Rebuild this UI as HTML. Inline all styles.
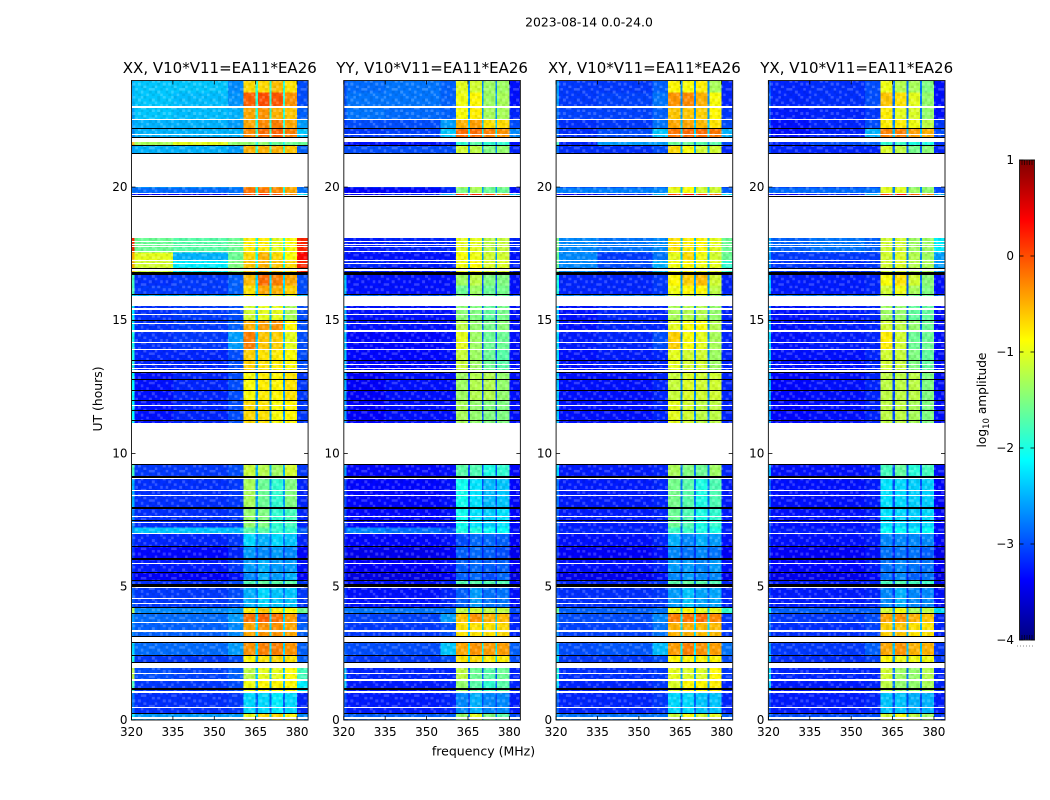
<!DOCTYPE html>
<html>
<head>
<meta charset="utf-8">
<title>2023-08-14 0.0-24.0</title>
<style>
html,body{margin:0;padding:0;background:#fff;width:1050px;height:800px;overflow:hidden}
svg{display:block}
text{font-family:"DejaVu Sans","Liberation Sans",sans-serif;fill:#000}
</style>
</head>
<body>
<svg id="fig" xmlns="http://www.w3.org/2000/svg" width="1050" height="800" viewBox="0 0 1050 800">
<defs>
<linearGradient id="jetGrad" x1="0" y1="1" x2="0" y2="0"></linearGradient>
<pattern id="grain" patternUnits="userSpaceOnUse" width="30.36" height="29.37" shape-rendering="crispEdges"></pattern>
</defs>
<text x="589" y="26.5" font-size="12.4" text-anchor="middle">2023-08-14 0.0-24.0</text>
<text x="102" y="399" font-size="12.4" text-anchor="middle" transform="rotate(-90 102 399)">UT (hours)</text>
<text x="483.5" y="755.5" font-size="12.5" text-anchor="middle">frequency (MHz)</text>
<text x="986" y="400" font-size="12.2" text-anchor="middle" transform="rotate(-90 986 400)">log<tspan font-size="8.5" dy="3">10</tspan><tspan dy="-3"> amplitude</tspan></text>
<g id="panels"></g>
<g id="cbar"></g>
</svg>
<script>
// Data (log10 amplitude per time block and frequency group)
const panelTitles = ['XX, V10*V11=EA11*EA26','YY, V10*V11=EA11*EA26','XY, V10*V11=EA11*EA26','YX, V10*V11=EA11*EA26'];
const xTickLabels = [320,335,350,365,380];
const yTickLabels = [0,5,10,15,20];
const cbarTickLabels = [-4,-3,-2,-1,0,1];
const channelEdges = [320,321,335,355,360.6,365,365.8,370,370.7,374.9,375.6,380,384];
const channelGroup = [0,1,2,3,4,8,5,8,6,8,7,9];
const rowEdges = [24,23.55,23.03,22.54,22.22,21.83,21.71,21.58,19.99,19.78,18.08,17.55,17.25,16.76,16.31,15.98,15.6,15,14.59,13.91,13.05,12,9.6,9.11,7.99,7.22,7.01,6.53,6.08,5.55,5.21,5.03,4.24,4.01,3.68,3.15,2.44,1.95,1.46,1.05,0.26,0];
// columns: edge, left1, left2, ramp, s1, s2, s3, s4, gap, right
const xxLevels = [
[-2.5,-2.4,-2.4,-2.7,-.7,-.7,-.55,-.75,-1.9,-3.0],
[-2.5,-2.4,-2.45,-2.65,-.1,0,-.05,-.35,-1.9,-3.0],
[-2.6,-2.4,-2.45,-2.5,-.45,-.35,-.5,-.6,-1.9,-2.9],
[-2.6,-2.5,-2.5,-2.6,-.45,-.3,-.25,-.45,-1.9,-2.6],
[-2.7,-2.5,-2.5,-2.5,-.3,-.15,-.1,-.25,-1.8,-2.4],
[-2.7,-2.6,-2.6,-2.7,-.9,-.9,-.9,-.9,-2,-2.8],
[-.5,-1.3,-1.0,-1.4,-1.4,-1.4,-1.6,-1.6,-2,-1.6],
[-2.6,-2.5,-2.5,-2.6,-.5,-.5,-.5,-.6,-1.8,-2.9],
[-2.8,-2.85,-2.85,-2.8,-.2,-.2,-.3,-.45,-2,-2.8],
[-3.3,-3.4,-3.4,-3.0,.0,.2,0,-.3,-2,-2.2],
[.2,-1.6,-1.7,-1.6,-.8,-.8,-1,-.9,-2,.2],
[-.5,-1.0,-2.5,-1.6,-.7,-.5,-.7,-.9,-2,.35],
[-.5,-1.1,-2.2,-1.5,-.6,-.5,-.6,-.7,-2,.2],
[-1.8,-3.15,-3.1,-2.9,-.55,-.15,-.25,-.45,-2.3,-3.0],
[-1.8,-3.1,-3.1,-2.9,-.75,-.45,-.5,-.65,-2.3,-3.0],
[-2.2,-2.5,-2.5,-2.4,-.9,-.9,-1,-1.1,-2.2,-2.4],
[-2.2,-3.15,-3.1,-3,-1.1,-1,-1,-1.3,-2.4,-3.0],
[-2.2,-3.15,-3.1,-2.9,-.5,-.4,-.35,-.85,-2.3,-3.0],
[-2,-3.15,-3.1,-2.6,-.25,-.6,-.65,-1,-2.4,-3.0],
[-2,-3.2,-3.2,-3,-.65,-.75,-.8,-.9,-2.5,-3.0],
[-2.1,-3.3,-3.2,-3.0,-.9,-.8,-.85,-.75,-2.6,-3.1],
[-2.1,-3.3,-3.2,-3.0,-.7,-.75,-.9,-.85,-2.6,-3.1],
[-1.8,-3.1,-3.1,-3,-1.15,-1.25,-1.35,-1.1,-2.5,-3.1],
[-2.5,-3.15,-3.15,-3.1,-1.3,-1.6,-1.9,-1.5,-2.6,-3.2],
[-2.7,-3.15,-3.15,-3.1,-1.4,-1.5,-1.9,-1.8,-2.6,-3.2],
[-2.6,-2.4,-2.4,-2.45,-1.7,-1.7,-1.9,-1.9,-2.4,-2.9],
[-3,-3.2,-3.2,-3.1,-2.3,-2.5,-2.3,-2.4,-2.8,-3.2],
[-3.1,-3.35,-3.35,-3.2,-2.6,-2.7,-2.6,-2.7,-3,-3.35],
[-3.1,-3.25,-3.25,-3.1,-2.6,-2.5,-2.6,-2.6,-2.9,-3.3],
[-3.2,-3.4,-3.4,-3.3,-2.7,-2.5,-2.6,-2.5,-3,-3.4],
[-3,-3.15,-3.15,-3,-1.75,-1.65,-1.7,-1.7,-2.6,-3.1],
[-2.9,-3.1,-3.1,-3,-2.5,-2.3,-2.4,-2.4,-2.8,-3.1],
[-1.3,-2.7,-2.7,-2.6,-.8,-.6,-.8,-.9,-2,-1.6],
[-2.6,-2.85,-2.85,-2.6,-.2,-.1,-.2,-.4,-2.3,-3.0],
[-2.7,-2.9,-2.9,-2.7,-.45,-.35,-.35,-.45,-2.3,-2.9],
[-2.3,-2.85,-2.85,-2.6,-.35,-.25,-.25,-.35,-2.3,-2.9],
[-2,-3.1,-3.1,-3,-.85,-.75,-.7,-.75,-2.5,-2.9],
[-1.2,-3.0,-3.05,-2.9,-1.2,-1.0,-1.0,-.9,-2.4,-1.8],
[-1.8,-3.1,-3.1,-3,-.95,-.85,-.85,-.85,-2.5,-2.2],
[-2.8,-3.15,-3.15,-3.1,-2.3,-2.3,-2.2,-2.3,-2.9,-3.2],
[-2.2,-2.6,-2.6,-2.6,-1.0,-.7,-.7,-.85,-2.3,-2.7]
];
const yyLevels = [
[-3,-2.85,-2.8,-2.9,-1.0,-1.1,-1.35,-1.35,-2.7,-3.3],
[-3,-2.8,-2.8,-2.9,-.95,-.85,-1.35,-1.3,-2.6,-3.3],
[-3,-2.8,-2.85,-2.9,-.9,-.8,-1.3,-1.3,-2.6,-3.2],
[-3.1,-3.0,-3.0,-2.6,-.5,-.4,-.75,-.7,-2.4,-3.0],
[-3.1,-3.1,-3.05,-2.4,-.15,-.15,-.25,-.35,-2.2,-2.7],
[-3.3,-3.3,-3.3,-3.2,-1.8,-1.8,-1.9,-1.9,-2.8,-3.3],
[-3.3,-3.3,-3.3,-3.2,-1.9,-1.7,-1.9,-1.9,-2.8,-3.3],
[-3.0,-3.0,-3.0,-3.0,-1.1,-1.2,-1.5,-1.4,-2.7,-3.2],
[-3.3,-3.4,-3.35,-3.2,-1.5,-1.3,-1.6,-1.6,-2.6,-3.3],
[-3.4,-3.4,-3.2,-2.5,.1,.2,0,-.3,-2,-2.4],
[-3.2,-3.25,-3.2,-3.2,-1.0,-1.0,-1.2,-1.15,-2.6,-3.2],
[-3.2,-3.3,-3.3,-3.3,-.9,-.95,-1.1,-1.1,-2.6,-3.3],
[-3.2,-3.2,-3.25,-3.2,-.95,-.85,-1.05,-1.05,-2.5,-3.2],
[-2.4,-3.3,-3.3,-3.3,-1.35,-1.2,-1.5,-1.5,-3.0,-3.3],
[-2.4,-3.3,-3.3,-3.3,-1.6,-1.35,-1.6,-1.55,-3.0,-3.3],
[-2.6,-2.8,-2.9,-2.9,-1.5,-1.4,-1.6,-1.6,-2.8,-2.9],
[-2.5,-3.3,-3.3,-3.3,-1.45,-1.5,-1.65,-1.55,-2.9,-3.3],
[-2.4,-3.3,-3.3,-3.3,-1.2,-1.4,-1.55,-1.45,-2.9,-3.3],
[-2.4,-3.35,-3.35,-3.3,-1.0,-1.35,-1.6,-1.6,-3,-3.3],
[-2.4,-3.35,-3.35,-3.3,-1.15,-1.35,-1.6,-1.7,-3,-3.3],
[-2.5,-3.4,-3.3,-3.3,-1.35,-1.25,-1.25,-1.4,-3,-3.3],
[-2.6,-3.4,-3.3,-3.3,-1.3,-1.4,-1.5,-1.5,-3,-3.3],
[-2.6,-3.35,-3.35,-3.3,-1.7,-1.75,-2.0,-1.9,-3,-3.35],
[-3,-3.35,-3.35,-3.3,-2.05,-2.25,-2.45,-2.4,-3,-3.35],
[-3,-3.35,-3.35,-3.3,-2.05,-2.25,-2.35,-2.25,-3,-3.35],
[-3,-2.7,-2.8,-3.0,-2,-2,-2.1,-2.1,-3,-3.3],
[-3.2,-3.35,-3.35,-3.3,-3,-2.85,-2.85,-2.9,-3.2,-3.4],
[-3.2,-3.45,-3.45,-3.4,-2.9,-2.85,-2.9,-3,-3.2,-3.45],
[-3.2,-3.4,-3.4,-3.3,-2.9,-2.85,-2.9,-2.9,-3.2,-3.4],
[-3.2,-3.5,-3.5,-3.4,-2.9,-2.85,-3,-2.85,-3.2,-3.5],
[-3.2,-3.3,-3.3,-3.2,-1.75,-1.7,-1.75,-1.75,-3,-3.3],
[-3.1,-3.3,-3.3,-3.2,-2.9,-2.6,-2.8,-2.8,-3.1,-3.3],
[-2.8,-2.8,-2.8,-2.8,-1.2,-1.1,-1.2,-1.2,-2.6,-3.0],
[-3.0,-3.05,-3.05,-2.6,-.6,-.35,-.5,-.55,-2.3,-3.2],
[-3.0,-3.1,-3.1,-3,-.75,-.75,-.75,-.7,-2.4,-3.2],
[-2.9,-3.0,-3.0,-2.4,-.45,-.35,-.4,-.4,-2.2,-2.9],
[-2.8,-3.1,-3.1,-3,-.75,-.7,-.8,-.8,-2.3,-3.0],
[-2.4,-3.2,-3.2,-3.2,-1.2,-1.6,-1.7,-1.6,-2.9,-3.2],
[-2.4,-3.25,-3.25,-3.2,-1.4,-1.7,-1.9,-1.7,-2.9,-3.2],
[-3,-3.25,-3.25,-3.2,-2.7,-2.5,-2.7,-2.7,-3,-3.25],
[-2.9,-2.9,-2.9,-2.9,-1.4,-1.0,-1.5,-1.7,-2.7,-3.0]
];
const xyLevels = [
[-2.6,-3.1,-3.1,-2.9,-.85,-.9,-.8,-1.3,-2.7,-3.2],
[-2.6,-3.1,-3.05,-2.8,-.35,-.3,-.5,-.9,-2.7,-3.2],
[-2.8,-3.05,-3.05,-2.9,-.6,-.6,-.65,-.85,-2.6,-3.1],
[-2.8,-3.15,-3.1,-2.8,-.45,-.45,-.55,-.75,-2.4,-3.0],
[-2.8,-3.15,-3.0,-2.4,-.2,-.15,-.15,-.2,-2.3,-2.5],
[-3.0,-3.2,-3.2,-3.1,-1.2,-1.2,-1.2,-1.2,-2.6,-3.2],
[-1.8,-3.2,-2.6,-2.6,-1.6,-1.6,-1.7,-1.7,-2.6,-3],
[-2.8,-3.15,-3.15,-3.0,-.7,-.9,-1.1,-1.1,-2.5,-3.2],
[-2.7,-2.75,-2.75,-2.7,-1,-.9,-1.1,-1.1,-2.4,-2.9],
[-3.4,-3.4,-3.2,-2.5,.1,.35,.15,-.1,-2.2,-2.2],
[-1.5,-2.7,-2.8,-2.7,-.75,-.8,-.85,-1,-2.4,-1.6],
[-1.6,-2.7,-3.1,-2.8,-1,-.7,-.95,-1.1,-2.4,-1.6],
[-1.6,-2.7,-3,-2.5,-.95,-.85,-.95,-1,-2.4,-1.9],
[-2.0,-3.2,-3.2,-3.1,-.85,-.65,-.55,-1.1,-2.6,-3.2],
[-2.0,-3.2,-3.2,-3.1,-.95,-.85,-.85,-1.2,-2.6,-3.2],
[-2.4,-2.7,-2.7,-2.7,-1.2,-1.2,-1.2,-1.4,-2.6,-2.8],
[-2.4,-3.3,-3.2,-3.2,-1.3,-1.25,-1.25,-1.4,-2.7,-3.2],
[-2.3,-3.3,-3.2,-3.2,-1.0,-.9,-.9,-1.25,-2.7,-3.2],
[-2.3,-3.25,-3.2,-3.0,-.65,-.9,-1.0,-1.3,-2.7,-3.2],
[-2.3,-3.3,-3.25,-3.2,-1.0,-1.1,-1.1,-1.35,-2.7,-3.2],
[-2.4,-3.3,-3.3,-3.2,-1.15,-1.05,-1.1,-1.1,-2.7,-3.2],
[-2.4,-3.3,-3.3,-3.2,-1.0,-1.1,-1.2,-1.2,-2.7,-3.2],
[-2.3,-3.25,-3.25,-3.2,-1.3,-1.5,-1.6,-1.35,-2.8,-3.2],
[-2.8,-3.25,-3.25,-3.2,-1.55,-1.7,-2.0,-1.75,-2.8,-3.25],
[-2.9,-3.25,-3.25,-3.2,-1.6,-1.75,-2.0,-1.9,-2.8,-3.25],
[-2.9,-3.2,-3.2,-3.2,-1.85,-1.85,-2.0,-2.0,-2.9,-3.2],
[-3.1,-3.3,-3.3,-3.2,-2.5,-2.7,-2.5,-2.6,-3,-3.3],
[-3.1,-3.4,-3.4,-3.3,-2.7,-2.8,-2.7,-2.8,-3.1,-3.4],
[-3.1,-3.3,-3.3,-3.2,-2.6,-2.6,-2.7,-2.6,-3,-3.3],
[-3.2,-3.45,-3.45,-3.3,-2.7,-2.6,-2.7,-2.7,-3.1,-3.45],
[-3.1,-3.2,-3.2,-3.1,-1.7,-1.65,-1.7,-1.75,-2.8,-3.2],
[-3,-3.15,-3.15,-3.1,-2.6,-2.4,-2.55,-2.55,-2.9,-3.2],
[-1.6,-2.9,-2.9,-2.8,-.95,-.85,-1,-1,-2.3,-1.9],
[-2.7,-3.0,-3.0,-2.7,-.25,-.2,-.15,-.3,-2.2,-3.1],
[-2.7,-3.05,-3.05,-2.8,-.5,-.5,-.55,-.55,-2.3,-3.1],
[-2.5,-3.0,-2.95,-2.45,-.4,-.25,-.35,-.4,-2.2,-2.8],
[-2.3,-3.1,-3.1,-3,-.85,-.85,-.85,-.85,-2.4,-3.0],
[-2.0,-3.15,-3.15,-3.1,-1,-1.05,-1.05,-.85,-2.6,-3.1],
[-2.3,-3.2,-3.2,-3.1,-1.05,-.85,-.85,-.8,-2.6,-3.2],
[-2.9,-3.2,-3.2,-3.1,-2.3,-2.3,-2.4,-2.4,-2.9,-3.2],
[-2.6,-2.8,-2.8,-2.8,-1.15,-.9,-1.1,-1.0,-2.4,-2.9]
];
const yxLevels = [
[-3,-3.2,-3.15,-3.0,-.95,-1.25,-1.3,-1.5,-2.8,-3.3],
[-2.9,-3.2,-3.15,-3.0,-.6,-.75,-1.0,-1.4,-2.8,-3.3],
[-3,-3.25,-3.2,-3.1,-.8,-1.0,-1.05,-1.4,-2.8,-3.3],
[-3,-3.3,-3.2,-3.0,-.8,-.8,-.95,-1.2,-2.7,-3.1],
[-3,-3.3,-3.2,-2.5,-.25,-.25,-.4,-.5,-2.4,-3.0],
[-3.1,-3.3,-3.3,-3.2,-1.85,-1.8,-2.0,-1.9,-3,-3.3],
[-3.1,-3.2,-3.0,-2.9,-1.9,-1.85,-2.0,-2.0,-3,-3.1],
[-3,-3.2,-3.2,-3.2,-1.05,-1.2,-1.55,-1.45,-2.9,-3.2],
[-2.8,-2.85,-2.85,-2.8,-1.0,-1.0,-1.35,-1.4,-2.7,-3.0],
[-3.4,-3.4,-3.2,-2.5,.1,.3,-.1,-.3,-2.3,-2.5],
[-2.5,-2.9,-2.8,-2.9,-1.1,-1.1,-1.35,-1.35,-2.7,-2.2],
[-2.6,-3.1,-3.1,-3.1,-1.1,-1.05,-1.25,-1.35,-2.7,-2.6],
[-2.6,-3.1,-3.15,-3.1,-1.1,-1.05,-1.25,-1.3,-2.7,-2.6],
[-2.4,-3.25,-3.25,-3.2,-.9,-.75,-1.1,-1.45,-2.9,-3.3],
[-2.4,-3.25,-3.25,-3.2,-1.1,-.95,-1.3,-1.5,-2.9,-3.3],
[-2.6,-2.75,-2.75,-2.8,-1.3,-1.3,-1.6,-1.6,-2.8,-2.9],
[-2.6,-3.3,-3.25,-3.2,-1.35,-1.4,-1.65,-1.65,-2.9,-3.3],
[-2.4,-3.3,-3.25,-3.2,-1.1,-1.2,-1.4,-1.6,-2.9,-3.3],
[-2.3,-3.3,-3.25,-3.2,-.8,-1.1,-1.6,-1.6,-3,-3.3],
[-2.4,-3.3,-3.3,-3.2,-1.1,-1.15,-1.5,-1.65,-3,-3.3],
[-2.5,-3.35,-3.3,-3.2,-1.2,-1.2,-1.2,-1.5,-3,-3.3],
[-2.6,-3.35,-3.3,-3.2,-1.2,-1.2,-1.3,-1.5,-3,-3.3],
[-2.5,-3.3,-3.3,-3.25,-1.8,-1.65,-1.95,-1.8,-3,-3.3],
[-2.9,-3.3,-3.3,-3.25,-2.25,-2.3,-2.35,-2.35,-3,-3.35],
[-3,-3.3,-3.3,-3.25,-2.25,-2.3,-2.35,-2.3,-3,-3.35],
[-3,-3.25,-3.25,-3.2,-2.1,-2.1,-2.2,-2.1,-3,-3.3],
[-3.1,-3.3,-3.3,-3.25,-2.7,-2.7,-2.7,-2.7,-3.1,-3.35],
[-3.15,-3.4,-3.4,-3.3,-2.8,-2.8,-2.8,-2.9,-3.2,-3.45],
[-3.1,-3.35,-3.35,-3.25,-2.8,-2.7,-2.8,-2.8,-3.1,-3.4],
[-3.2,-3.45,-3.45,-3.35,-2.8,-2.7,-2.9,-2.8,-3.2,-3.5],
[-3.1,-3.25,-3.25,-3.2,-1.8,-1.75,-1.8,-1.85,-3,-3.3],
[-3.1,-3.25,-3.25,-3.2,-2.7,-2.5,-2.7,-2.7,-3.1,-3.3],
[-2.2,-2.9,-2.9,-2.9,-1.1,-.95,-1.3,-1.2,-2.6,-2.3],
[-2.8,-3.1,-3.1,-3.0,-.45,-.35,-.5,-.6,-2.4,-3.2],
[-2.8,-3.15,-3.15,-3.05,-.65,-.6,-.75,-.75,-2.5,-3.2],
[-2.6,-3.1,-3.1,-2.9,-.45,-.35,-.5,-.5,-2.4,-3.1],
[-2.4,-3.15,-3.15,-3.05,-.85,-.95,-.95,-.95,-2.6,-3.1],
[-2.3,-3.2,-3.2,-3.2,-1.1,-1.35,-1.4,-1.25,-2.8,-3.2],
[-2.4,-3.25,-3.25,-3.2,-1.2,-1.4,-1.4,-1.3,-2.8,-3.2],
[-3,-3.25,-3.25,-3.2,-2.4,-2.4,-2.5,-2.5,-3,-3.25],
[-2.8,-3,-3,-3,-1.1,-.9,-1.2,-1.35,-2.6,-3.1]
];
// flagged (masked) time ranges in hours: [from, to]
const maskedHours = [[23.03,22.98],[22.55,22.5],[21.99,21.95],[21.83,21.70],[21.27,19.99],[19.79,19.76],[19.7,19.68],[19.64,18.08],[17.97,17.93],[17.87,17.82],[17.78,17.75],[17.62,17.58],[17.27,17.22],[17.15,17.1],[16.98,16.93],[16.91,16.85],[15.9,15.63],[15.6,15.53],[15.45,15.38],[15.25,15.2],[14.89,14.85],[14.63,14.58],[14.18,14.13],[13.93,13.89],[13.35,13.31],[13.22,13.18],[13.13,13.06],[11.81,11.78],[11.14,9.62],[9.09,9.05],[8.65,8.59],[8.46,8.43],[7.65,7.61],[7.44,7.4],[7.02,6.99],[5.9,5.85],[5,4.94],[4.58,4.54],[4.38,4.34],[3.68,3.64],[3.36,3.3],[3.12,2.94],[2.13,1.94],[1.75,1.71],[1.54,1.46],[1.1,1.02],[.49,.45],[.12,.09],[.06,.03]];
// zero-amplitude time ranges in hours: [from, to]
const zeroHours = [[22.23,22.2],[21.88,21.85],[21.59,21.56],[21.29,21.27],[19.66,19.64],[16.95,16.92],[16.8,16.7],[15.99,15.97],[15.01,14.98],[13.52,13.49],[13.05,13.02],[12.78,12.75],[12.4,12.37],[12.02,11.99],[11.65,11.62],[11.27,11.24],[9.62,9.58],[9.15,9.09],[7.98,7.91],[7.5,7.45],[6.54,6.48],[6.08,6.01],[5.56,5.5],[5.25,5.2],[5.1,5],[4.25,4.19],[4.01,3.99],[3.16,3.12],[2.94,2.9],[2.44,2.41],[2.19,2.13],[1.21,1.12],[.27,.21]];
// fine speckle tile: + lighter, - darker, . none
const grainTile = [
"+..-.+..-.+",
".-+..-.+..-",
"-..+..-..+.",
"..-.+..+-..",
"+.-..-+...-",
".+..-..-+..",
"-..+.+-...+",
".-...-.++-.",
"+.+-...-..-",
"..-.+.+..-.",
"-+..-..-+.."
];

const NS = 'http://www.w3.org/2000/svg';
const PANEL_LEFTS = [131.5, 343.8, 556.1, 768.4];
const PANEL_W = 176.6, AX_TOP = 80.5, AX_BOTTOM = 720;
const FREQ_MIN = 320, FREQ_MAX = 384, HOUR_MAX = 24;
const panelLevels = [xxLevels, yyLevels, xyLevels, yxLevels];

function xScale(left, mhz){ return left + (mhz - FREQ_MIN) / (FREQ_MAX - FREQ_MIN) * PANEL_W; }
function yScale(hour){ return AX_BOTTOM - hour / HOUR_MAX * (AX_BOTTOM - AX_TOP); }
function jet(t){
  t = Math.max(0, Math.min(1, t));
  const ch = c => Math.round(255 * Math.max(0, Math.min(1, 1.5 - Math.abs(4 * t - c))));
  return 'rgb(' + ch(3) + ',' + ch(2) + ',' + ch(1) + ')';
}
function colorOf(v){ return jet((v + 4) / 5); }
function make(tag, attrs, parent){
  const el = document.createElementNS(NS, tag);
  for (const k in attrs) el.setAttribute(k, attrs[k]);
  parent.appendChild(el);
  return el;
}
function bandBox(m){
  const y0 = Math.round(yScale(m[0]));
  const y1 = Math.max(y0 + 1, Math.round(yScale(m[1])));
  return {y: y0, height: y1 - y0};
}

// speckle pattern
const grain = document.getElementById('grain');
grainTile.forEach((line, r) => {
  [...line].forEach((c, i) => {
    if (c === '.') return;
    make('rect', {x: i * 2.76, y: r * 2.67, width: 2.76, height: 2.67,
      fill: c === '+' ? '#fff' : '#000', 'fill-opacity': c === '+' ? 0.2 : 0.08}, grain);
  });
});

const panelsRoot = document.getElementById('panels');
panelTitles.forEach((title, p) => {
  const left = PANEL_LEFTS[p];
  const right = left + PANEL_W;
  const levels = panelLevels[p];
  const g = make('g', {}, panelsRoot);
  
  

  const cells = make('g', {'shape-rendering': 'crispEdges'}, g);
  
  
  levels.forEach((row, r) => {
    const y0 = yScale(rowEdges[r]), y1 = yScale(rowEdges[r + 1]);
    channelGroup.forEach((grp, c) => {
      const x0 = xScale(left, channelEdges[c]), x1 = xScale(left, channelEdges[c + 1]);
      const cell = make('rect', {x: x0, y: y0, width: x1 - x0, height: y1 - y0, fill: colorOf(row[grp])}, cells);
      
      
    });
  });
  const speckle = make('rect', {x: left, y: AX_TOP, width: PANEL_W, height: AX_BOTTOM - AX_TOP, fill: 'url(#grain)'}, g);
  
  

  const flags = make('g', {'shape-rendering': 'crispEdges'}, g);
  
  
  maskedHours.forEach(m => {
    const b = bandBox(m);
    const band = make('rect', {x: left, y: b.y, width: PANEL_W, height: b.height, fill: '#fff'}, flags);
    
    
  });
  zeroHours.forEach(m => {
    const b = bandBox(m);
    const band = make('rect', {x: left, y: b.y, width: PANEL_W, height: b.height, fill: '#000'}, flags);
    
    
  });

  const frame = make('rect', {x: left, y: AX_TOP, width: PANEL_W, height: AX_BOTTOM - AX_TOP, fill: 'none', stroke: '#222', 'stroke-width': 1}, g);
  
  

  const t = make('text', {x: left + PANEL_W / 2, y: 73, 'font-size': 15, 'text-anchor': 'middle'}, g);
  t.textContent = title;
  
  

  xTickLabels.forEach(v => {
    const x = xScale(left, v);
    [[AX_BOTTOM, AX_BOTTOM - 4], [AX_TOP, AX_TOP + 4]].forEach(s => {
      const tick = make('line', {x1: x, x2: x, y1: s[0], y2: s[1], stroke: '#000', 'stroke-width': 0.8}, g);
      
      
    });
    const lab = make('text', {x: x, y: 736, 'font-size': 12, 'text-anchor': 'middle'}, g);
    lab.textContent = v;
    
    
  });
  yTickLabels.forEach(v => {
    const y = yScale(v);
    [[left, left + 4], [right, right - 4]].forEach(s => {
      const tick = make('line', {x1: s[0], x2: s[1], y1: y, y2: y, stroke: '#000', 'stroke-width': 0.8}, g);
      
      
    });
    const lab = make('text', {x: left - 4, y: y + 3.8, 'font-size': 12, 'text-anchor': 'end'}, g);
    lab.textContent = v;
    
    
  });
});

// colour bar
const CB_L = 1019.5, CB_R = 1034.5, CB_T = 160, CB_B = 640;
const cbar = document.getElementById('cbar');
const grad = document.getElementById('jetGrad');
for (let i = 0; i <= 32; i++) {
  make('stop', {offset: (i / 32), 'stop-color': jet(i / 32)}, grad);
}
function cbScale(v){ return CB_B - (v + 4) / 5 * (CB_B - CB_T); }
const cbRect = make('rect', {x: CB_L, y: CB_T, width: CB_R - CB_L, height: CB_B - CB_T, fill: 'url(#jetGrad)', stroke: '#222', 'stroke-width': 1}, cbar);


cbarTickLabels.forEach(v => {
  const y = cbScale(v);
  [[CB_L, CB_L + 4], [CB_R, CB_R - 4]].forEach(s => {
    const tick = make('line', {x1: s[0], x2: s[1], y1: y, y2: y, stroke: '#000', 'stroke-width': 0.8}, cbar);
    
    
  });
  const lab = make('text', {x: 1014, y: y + 3.8, 'font-size': 12, 'text-anchor': 'end'}, cbar);
  lab.textContent = v < 0 ? '\u2212' + Math.abs(v) : String(v);
  
  
});
[CB_T, CB_B].forEach((edge, e) => {
  for (let i = 1; i <= 5; i++) {
    const x = CB_L + (CB_R - CB_L) * i / 6;
    const minor = make('line', {x1: x, x2: x, y1: edge, y2: e ? edge - 5 : edge + 5, stroke: '#000', 'stroke-width': 0.6}, cbar);
    
    
  }
});
const dots = make('line', {x1: 1017, x2: 1035, y1: 646, y2: 646, stroke: '#888', 'stroke-width': 1, 'stroke-dasharray': '1 2'}, cbar);


</script>
</body>
</html>
